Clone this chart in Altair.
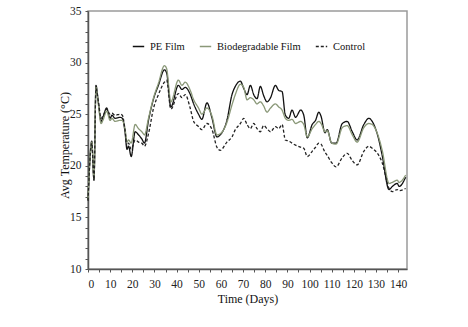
import altair as alt
import pandas as pd

days = [0, 1.7, 2.7, 3.6, 4.7, 5.9, 6.9, 8.4, 10, 10.8, 12.2, 14.5, 15.5, 16.7, 17.6, 18.3,
        19.5, 21.3, 22.8, 24.3, 25.5, 27.3, 29.6, 31.8, 34.5, 35.5, 37.4, 40.8, 42.4, 43.9,
        46, 47.7, 49.9, 51.4, 53.7, 56, 58.2, 59.7, 62.7, 65, 66.5, 68.8, 70.3, 71.8, 73.3,
        74.8, 76.3, 77.8, 79.3, 80.8, 82.4, 84.6, 86.1, 87.6, 89.1, 90.6, 92.1, 93.7, 96,
        97.4, 99, 101.2, 102.7, 104.2, 105.2, 107, 108, 110, 112, 114.8, 117, 119.3, 121.5,
        124.5, 126.8, 128.3, 131.3, 132.8, 135.9, 137.4, 139.6, 140.4, 143.4]

pe_film = [16.7, 22.4, 18.6, 27.8, 26.1, 24.3, 24.8, 25.6, 24.6, 24.9, 24.6, 24.7, 24.6, 23.3, 21.6, 21.9,
           20.9, 23.3, 23.0, 22.6, 22.2, 24.4, 26.5, 27.8, 29.3, 29.0, 25.7, 27.8, 27.4, 27.6,
           27.0, 26.0, 25.0, 24.5, 26.1, 24.6, 22.8, 23.0, 24.4, 26.9, 27.7, 28.2, 27.5, 26.9, 27.8,
           26.9, 26.5, 27.7, 26.8, 26.2, 26.6, 27.8, 27.3, 27.2, 24.9, 24.6, 25.4, 24.7, 25.4,
           24.9, 22.7, 24.0, 24.4, 25.2, 24.8, 23.2, 23.5, 22.2, 22.2, 24.1, 24.3, 23.3, 22.5,
           24.0, 24.6, 24.3, 22.5, 21.0, 17.7, 18.0, 18.3, 18.0, 18.9]

biodegradable = [16.7, 22.3, 18.8, 27.6, 25.9, 24.1, 24.5, 25.3, 24.4, 24.6, 24.3, 24.4, 24.4, 23.6, 22.3, 22.5,
                 22.2, 24.0, 23.6, 23.3, 23.0, 24.6, 26.6, 28.0, 29.7, 29.4, 26.2, 28.3, 27.8, 28.1,
                 27.4, 26.4, 25.6, 25.0, 25.6, 24.8, 23.0, 23.1, 24.2, 25.9, 26.9, 27.9, 27.6, 26.4, 26.6,
                 26.4, 26.0, 26.2, 25.8, 25.2, 25.6, 26.0, 25.7, 25.4, 24.6, 24.4, 24.5, 24.1, 24.3,
                 24.0, 22.8, 23.6, 24.0, 24.3, 24.1, 23.3, 23.4, 22.2, 22.1, 23.7, 23.9, 23.0, 22.3,
                 23.7, 24.1, 24.0, 22.7, 21.5, 18.3, 18.4, 18.6, 18.4, 19.1]

control = [16.6, 22.2, 18.7, 27.5, 26.2, 24.6, 24.9, 25.5, 25.0, 25.1, 24.9, 25.0, 24.9, 23.5, 21.9, 22.2,
           21.6, 22.5, 22.3, 22.2, 21.9, 23.1, 25.6, 26.9, 28.1, 28.3, 25.5, 27.0, 26.6, 26.9,
           25.7, 24.3, 23.8, 23.5, 24.1, 23.5, 21.8, 21.5, 22.3, 22.8, 23.5, 24.1, 24.6, 24.0, 23.6,
           24.1, 23.6, 23.3, 23.9, 23.6, 23.3, 23.8, 23.6, 24.0, 22.5, 22.4, 22.2, 22.0, 21.8,
           21.7, 20.9, 21.4, 21.8, 22.2, 22.1, 21.3, 21.0, 20.3, 19.9, 20.8, 21.2, 20.5, 20.1,
           21.4, 21.9, 21.7, 21.0, 20.3, 17.8, 17.5, 17.7, 17.6, 17.8]

series_names = ["PE Film", "Biodegradable Film", "Control"]
y_ticks = list(range(10, 36))
x_ticks = list(range(0, 145, 5))

rows = []
for name, vals in zip(series_names, [pe_film, biodegradable, control]):
    for d, v in zip(days, vals):
        rows.append({"day": d, "temp": v, "series": name})
df = pd.DataFrame(rows)

font = "Liberation Serif"

leg = dict(title=None, orient="none", direction="horizontal",
           legendX=44, legendY=29, symbolType="stroke",
           symbolSize=130, symbolStrokeWidth=1.5,
           labelFont=font, labelFontSize=10.5, labelColor="#111",
           columnPadding=11, labelOffset=5)

chart = alt.Chart(df).mark_line(strokeWidth=1.3, interpolate="monotone").encode(
    x=alt.X("day:Q", scale=alt.Scale(domain=[0, 144], nice=False),
            axis=alt.Axis(title="Time (Days)", values=x_ticks,
                          labelExpr="datum.value % 10 == 0 ? datum.label : ''",
                          grid=False, tickSize=3, labelPadding=6, titlePadding=4)),
    y=alt.Y("temp:Q", scale=alt.Scale(domain=[10, 35], nice=False),
            axis=alt.Axis(title="Avg Temperature (°C)", values=y_ticks,
                          labelExpr="datum.value % 5 == 0 ? datum.label : ''",
                          grid=False, tickSize=3, labelPadding=4,
                          titleX=-17, titleY=134)),
    color=alt.Color("series:N",
                    scale=alt.Scale(domain=series_names, range=["#111111", "#8a9878", "#222222"]),
                    legend=alt.Legend(**leg)),
    strokeDash=alt.StrokeDash("series:N",
                              scale=alt.Scale(domain=series_names, range=[[1, 0], [1, 0], [3, 2]]),
                              legend=alt.Legend(**leg)),
    order=alt.Order("series:N"),
).properties(
    width=319, height=258,
    autosize=alt.AutoSizeParams(type="none"),
    padding={"left": 88, "top": 11, "right": 61, "bottom": 58},
).configure_view(
    stroke="#9a9a9a", strokeWidth=1.5
).configure_axis(
    labelFont=font, titleFont=font, labelFontSize=11.5, titleFontSize=12,
    titleFontWeight="normal", labelColor="#222", titleColor="#111",
    domainColor="#555", domainWidth=1.5, tickColor="#555"
)

chart.save("out.html", embed_options={"renderer": "svg", "actions": False})
